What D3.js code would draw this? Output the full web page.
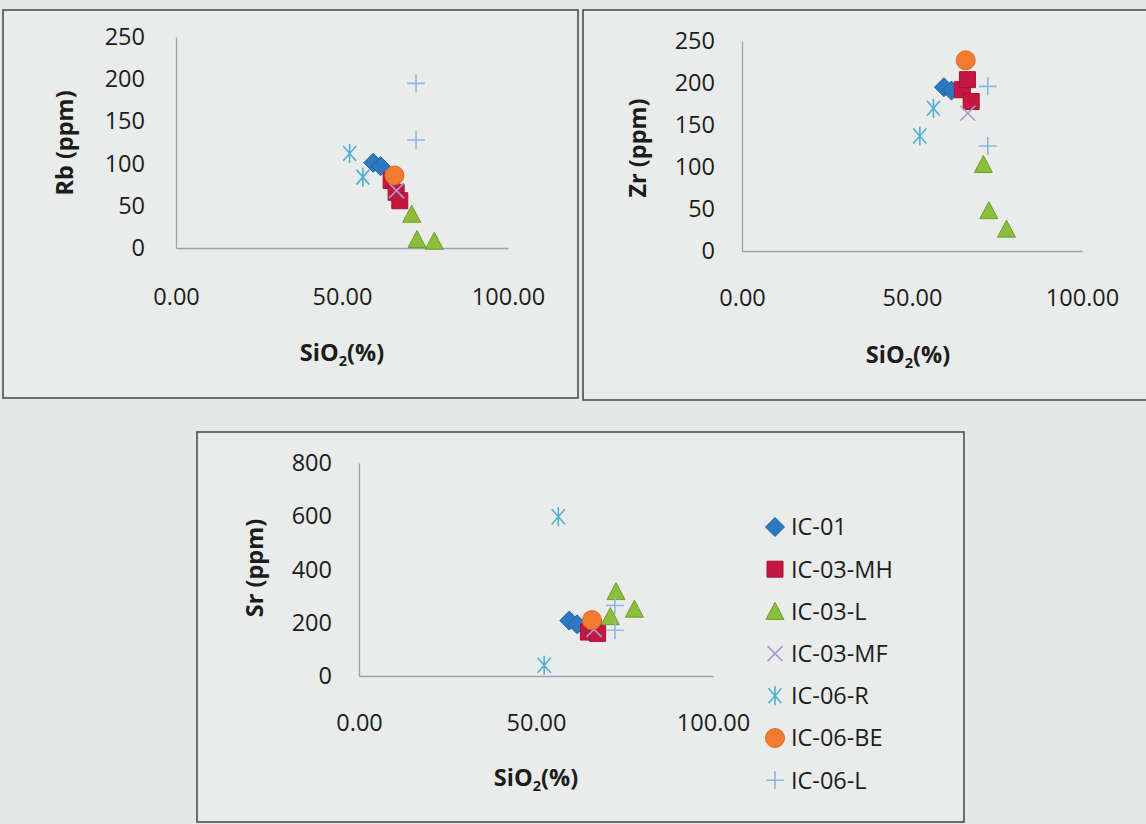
<!DOCTYPE html>
<html>
<head>
<meta charset="utf-8">
<script src="https://cdn.jsdelivr.net/npm/d3@7"></script>
<style>
  html, body { margin: 0; padding: 0; background: #e5e8e6; }
  svg { display: block; }
  text { font-family: "Open Sans", sans-serif; fill: #1c1c1c; }
</style>
</head>
<body>
<svg id="chart" width="1146" height="824"></svg>
<script>
// Series names (legend order = drawing order)
const seriesNames = ['IC-01', 'IC-03-MH', 'IC-03-L', 'IC-03-MF', 'IC-06-R', 'IC-06-BE', 'IC-06-L'];

// One entry per sample
const sampleSeries = ['IC-01', 'IC-01',
    'IC-03-MH', 'IC-03-MH', 'IC-03-MH',
    'IC-03-L', 'IC-03-L', 'IC-03-L',
    'IC-03-MF',
    'IC-06-R', 'IC-06-R',
    'IC-06-BE',
    'IC-06-L', 'IC-06-L'];
const sio2 = [59.4, 61.6, 64.8, 66.3, 67.4, 71.0, 72.6, 77.8, 66.4, 52.3, 56.3, 65.8, 72.3, 72.3];
const rb   = [101, 97, 80, 66, 56, 40, 10, 8, 68, 112, 84, 86, 195, 128];
const zr   = [195, 191, 192, 204, 178, 103, 48, 26, 164, 137, 170, 227, 196, 125];
const sr   = [208, 194, 165, 180, 160, 223, 317, 251, 175, 40, 598, 210, 265, 172];

const xTicks = [0, 50, 100];
const rbTicks = [0, 50, 100, 150, 200, 250];
const zrTicks = [0, 50, 100, 150, 200, 250];
const srTicks = [0, 200, 400, 600, 800];

// Layout of the three framed charts
const panels = [
    { values: rb, ticks: rbTicks, max: 250, title: 'Rb (ppm)',
      frame: [3, 10, 578, 398], xr: [176, 508], yr: [248, 37],
      yPad: 31, xPad: 40, yTitle: [65, 143], xTitle: [342, 353] },
    { values: zr, ticks: zrTicks, max: 250, title: 'Zr (ppm)',
      frame: [583, 10, 1150, 400], xr: [742, 1082], yr: [251, 41],
      yPad: 27, xPad: 38, yTitle: [638, 148], xTitle: [908, 355] },
    { values: sr, ticks: srTicks, max: 800, title: 'Sr (ppm)',
      frame: [197, 432, 964, 822], xr: [359, 713], yr: [676, 463],
      yPad: 27, xPad: 38, yTitle: [255, 568], xTitle: [536, 778] }
];

const styles = {
    'IC-01':    { shape: 'diamond',  fill: '#2c79c1', stroke: '#21609e' },
    'IC-03-MH': { shape: 'square',   fill: '#c5173f', stroke: '#a81234' },
    'IC-03-L':  { shape: 'triangle', fill: '#8dbe3b', stroke: '#6f9c2a' },
    'IC-03-MF': { shape: 'x',        fill: 'none',    stroke: '#a79bcb' },
    'IC-06-R':  { shape: 'asterisk', fill: 'none',    stroke: '#4fb0cf' },
    'IC-06-BE': { shape: 'circle',   fill: '#f07b31', stroke: '#e06a22' },
    'IC-06-L':  { shape: 'plus',     fill: 'none',    stroke: '#8fb5de' }
};

const fontSize = 23.5;
const svg = d3.select('#chart');

function markerPath(shape) {
    switch (shape) {
        case 'diamond': return 'M0,-9.5L9.5,0L0,9.5L-9.5,0Z';
        case 'square': return 'M-8,-8H8V8H-8Z';
        case 'triangle': return 'M0,-9L9,8H-9Z';
        case 'circle': return d3.arc()({ innerRadius: 0, outerRadius: 9.5, startAngle: 0, endAngle: 2 * Math.PI });
        case 'x': return 'M-7.5,-7.5L7.5,7.5M-7.5,7.5L7.5,-7.5';
        case 'asterisk': return 'M-6.5,-7.5L6.5,7.5M-6.5,7.5L6.5,-7.5M0,-9.5V9.5';
        case 'plus': return 'M-9,0H9M0,-9V9';
    }
}

function drawMarker(g, name, cx, cy) {
    const s = styles[name];
    g.append('path')
        .attr('d', markerPath(s.shape))
        .attr('transform', `translate(${cx},${cy})`)
        .attr('fill', s.fill)
        .attr('stroke', s.stroke)
        .attr('stroke-width', s.fill === 'none' ? 1.6 : 1);
}

function addSiO2Title(g, cx, cy) {
    const t = g.append('text')
        .attr('x', cx)
        .attr('y', cy + 8)
        .attr('text-anchor', 'middle')
        .attr('font-weight', 'bold')
        .attr('font-size', fontSize);
    t.append('tspan').text('SiO');
    t.append('tspan').text('2').attr('font-size', fontSize * 0.62).attr('dy', 5);
    t.append('tspan').text('(%)').attr('dy', -5);
}

panels.forEach(p => {
    const g = svg.append('g');
    const [x0, y0, x1, y1] = p.frame;

    g.append('rect')
        .attr('x', x0).attr('y', y0)
        .attr('width', x1 - x0).attr('height', y1 - y0)
        .attr('fill', '#e9ecea')
        .attr('stroke', '#4d4f4e')
        .attr('stroke-width', 1.6);

    const x = d3.scaleLinear().domain([0, 100]).range(p.xr);
    const y = d3.scaleLinear().domain([0, p.max]).range(p.yr);

    const xAxis = g.append('g')
        .attr('transform', `translate(0,${y(0)})`)
        .call(d3.axisBottom(x).tickValues(xTicks).tickFormat(d3.format('.2f'))
            .tickSize(0).tickSizeOuter(0).tickPadding(p.xPad));
    const yAxis = g.append('g')
        .attr('transform', `translate(${x(0)},0)`)
        .call(d3.axisLeft(y).tickValues(p.ticks).tickFormat(d3.format('d'))
            .tickSize(0).tickSizeOuter(0).tickPadding(p.yPad));

    [xAxis, yAxis].forEach(a => {
        a.select('.domain').attr('stroke', '#9aa6ae').attr('stroke-width', 1.3);
        a.selectAll('text')
            .attr('font-family', '"Open Sans", sans-serif')
            .attr('font-size', fontSize)
            .attr('fill', '#1c1c1c');
    });

    g.append('text')
        .attr('transform', `translate(${p.yTitle[0]},${p.yTitle[1]}) rotate(-90)`)
        .attr('text-anchor', 'middle')
        .attr('dy', '0.35em')
        .attr('font-weight', 'bold')
        .attr('font-size', fontSize)
        .text(p.title);

    addSiO2Title(g, p.xTitle[0], p.xTitle[1]);

    // points, series by series so later series sit on top
    const marks = g.append('g');
    seriesNames.forEach(name => {
        sampleSeries.forEach((s, i) => {
            if (s === name) drawMarker(marks, name, x(sio2[i]), y(p.values[i]));
        });
    });
});

// Legend beside the Sr chart
const legend = svg.append('g');
const legendX = 775, legendY = 527, legendStep = 42.2;
seriesNames.forEach((name, i) => {
    const ly = legendY + i * legendStep;
    drawMarker(legend, name, legendX, ly);
    legend.append('text')
        .attr('x', legendX + 16)
        .attr('y', ly)
        .attr('dy', '0.36em')
        .attr('font-size', fontSize)
        .text(name);
});
</script>
</body>
</html>
